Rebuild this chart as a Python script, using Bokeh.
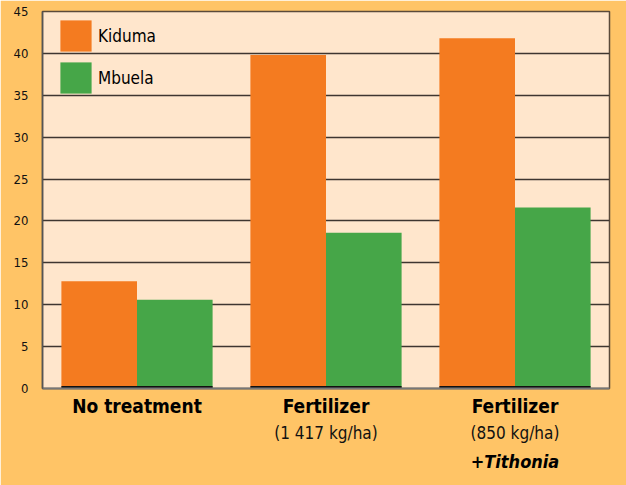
from bokeh.plotting import figure
from bokeh.models import Range1d, Legend, LegendItem, FixedTicker, ColumnDataSource, LinearAxis
from bokeh.transform import dodge
from bokeh.embed import file_html
from bokeh.resources import INLINE

categories = ["No treatment", "Fertilizer 1417", "Fertilizer 850 + Tithonia"]
kiduma = [12.8, 39.8, 41.8]
mbuela = [10.6, 18.6, 21.6]
line1 = ["No treatment", "Fertilizer", "Fertilizer"]
line2 = [" ", "(1 417 kg/ha)", "(850 kg/ha)"]
line3 = [" ", " ", "+Tithonia"]
y_ticks = [0, 5, 10, 15, 20, 25, 30, 35, 40, 45]

FONT = "DejaVu Sans Condensed, Liberation Sans Narrow, sans-serif"
BG = "#FFC466"
PLOT_BG = "#FFE6CC"
ORANGE = "#F47B20"
GREEN = "#46A648"

pos = [i + 0.5 for i in range(len(categories))]
src = ColumnDataSource(dict(pos=pos, kiduma=kiduma, mbuela=mbuela))

p = figure(x_range=Range1d(0, len(categories)), y_range=Range1d(0, 45),
           width=626, height=485, output_backend="svg", toolbar_location=None,
           min_border_left=42, min_border_right=17, min_border_top=11, min_border_bottom=97)
p.background_fill_color = PLOT_BG
p.border_fill_color = BG
p.outline_line_color = "#5a4a3a"
p.outline_line_width = 1.5

r1 = p.vbar(x=dodge("pos", -0.2), top="kiduma", width=0.4, source=src,
            color=ORANGE, line_color=None)
r2 = p.vbar(x=dodge("pos", 0.2), top="mbuela", width=0.4, source=src,
            color=GREEN, line_color=None)
p.vbar(x=dodge("pos", -0.2), top=0.3, bottom=0, width=0.4, source=src,
       color="#111111", line_color=None)
p.vbar(x=dodge("pos", 0.2), top=0.3, bottom=0, width=0.4, source=src,
       color="#111111", line_color=None)

p.xgrid.grid_line_color = None
p.ygrid.grid_line_color = "#3e3630"
p.ygrid.grid_line_width = 1.5
p.ygrid.level = "underlay"
p.yaxis.ticker = FixedTicker(ticks=y_ticks)
p.yaxis.major_tick_line_color = None
p.yaxis.minor_tick_line_color = None
p.yaxis.axis_line_color = "#555555"
p.yaxis.axis_line_width = 1.5
p.yaxis.major_label_standoff = 8
p.yaxis.major_label_text_font = FONT
p.yaxis.major_label_text_font_size = "13px"
p.yaxis.major_label_text_color = "#111111"

xa = p.xaxis[0]
xa.ticker = FixedTicker(ticks=pos)
xa.major_tick_line_color = None
xa.minor_tick_line_color = None
xa.axis_line_color = "#777777"
xa.axis_line_width = 2
xa.major_label_overrides = {x: t for x, t in zip(pos, line1)}
xa.major_label_text_font = FONT
xa.major_label_text_font_style = "bold"
xa.major_label_text_font_size = "19px"
xa.major_label_text_color = "#000000"
xa.major_label_standoff = 0

ax2 = LinearAxis(ticker=FixedTicker(ticks=pos),
                 major_label_overrides={x: t for x, t in zip(pos, line2)},
                 axis_line_color=None, major_tick_line_color=None, minor_tick_line_color=None,
                 major_label_text_font=FONT, major_label_text_font_size="17px",
                 major_label_text_color="#111111", major_label_standoff=-3)
ax3 = LinearAxis(ticker=FixedTicker(ticks=pos),
                 major_label_overrides={x: t for x, t in zip(pos, line3)},
                 axis_line_color=None, major_tick_line_color=None, minor_tick_line_color=None,
                 major_label_text_font=FONT, major_label_text_font_style="bold italic",
                 major_label_text_font_size="18px",
                 major_label_text_color="#000000", major_label_standoff=-1)
p.add_layout(ax2, "below")
p.add_layout(ax3, "below")

legend = Legend(items=[LegendItem(label="Kiduma", renderers=[r1]),
                       LegendItem(label="Mbuela", renderers=[r2])],
                location=(14, 291), margin=0, padding=0, spacing=3,
                glyph_width=39, glyph_height=39, label_standoff=3,
                label_text_font=FONT, label_text_font_size="17px",
                label_text_color="#000000",
                background_fill_alpha=0, border_line_color=None)
p.add_layout(legend)

open("out.html", "w").write(file_html(p, INLINE))
